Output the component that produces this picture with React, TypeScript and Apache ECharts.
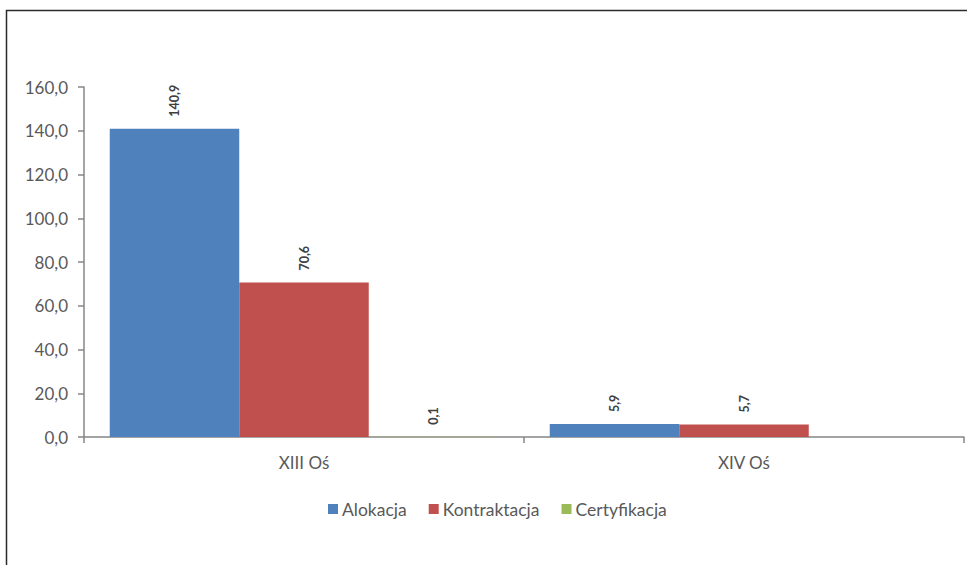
import React, { useEffect, useRef } from "react";
import * as echarts from "echarts";

const categories = ["XIII Oś", "XIV Oś"];
const alokacja = [140.9, 5.9];
const kontraktacja = [70.6, 5.7];
const certyfikacja: (number | null)[] = [0.1, null];
const seriesNames = ["Alokacja", "Kontraktacja", "Certyfikacja"];
const colors = ["#4F81BD", "#C0504D", "#9BBB59"];

const fmt = (v: number) => v.toFixed(1).replace(".", ",");
const FONT = "Lato, 'Open Sans', sans-serif";

export default function App() {
  const ref = useRef<HTMLDivElement>(null);
  useEffect(() => {
    document.body.style.margin = "0";
    const chart = echarts.init(ref.current!, null, { renderer: "svg" });
    const label = {
      show: true,
      position: "top",
      rotate: 90,
      align: "left",
      verticalAlign: "middle",
      distance: 12,
      fontSize: 12.5,
      fontWeight: "bold",
      color: "#404040",
      fontFamily: FONT,
      formatter: (p: any) => fmt(p.value),
    };
    const datas = [alokacja, kontraktacja, certyfikacja];
    chart.setOption({
      animation: false,
      color: colors,
      graphic: [
        {
          type: "rect",
          shape: { x: 6.5, y: 10.5, width: 1200, height: 1200 },
          style: { fill: "none", stroke: "#2b2b2b", lineWidth: 1.5 },
          silent: true,
        },
      ],
      grid: { left: 84, right: 3, top: 87, bottom: 128, containLabel: false },
      legend: {
        bottom: 42,
        left: 323,
        itemWidth: 10,
        itemHeight: 10,
        itemGap: 22,
        icon: "rect",
        textStyle: { fontSize: 17.5, color: "#595959", fontFamily: FONT, padding: [0, 0, 0, -1] },
        data: seriesNames,
      },
      xAxis: {
        type: "category",
        data: categories,
        axisLine: { lineStyle: { color: "#868686", width: 1.5 } },
        axisTick: { show: true, length: 6, lineStyle: { color: "#868686", width: 1.5 } },
        axisLabel: { fontSize: 17, color: "#595959", fontFamily: FONT, margin: 17 },
      },
      yAxis: {
        type: "value",
        min: 0,
        max: 160,
        interval: 20,
        splitLine: { show: false },
        axisLine: { show: true, lineStyle: { color: "#868686", width: 1.5 } },
        axisTick: { show: true, length: 6, lineStyle: { color: "#868686", width: 1.5 } },
        axisLabel: {
          fontSize: 17,
          color: "#595959",
          fontFamily: FONT,
          margin: 16,
          formatter: (v: number) => fmt(v),
        },
      },
      series: seriesNames.map((name, i) => ({
        name,
        type: "bar",
        data: datas[i],
        barGap: "0%",
        barCategoryGap: "11.7%",
        label,
      })),
    });
    return () => chart.dispose();
  }, []);
  return <div ref={ref} style={{ width: 967, height: 565 }} />;
}
